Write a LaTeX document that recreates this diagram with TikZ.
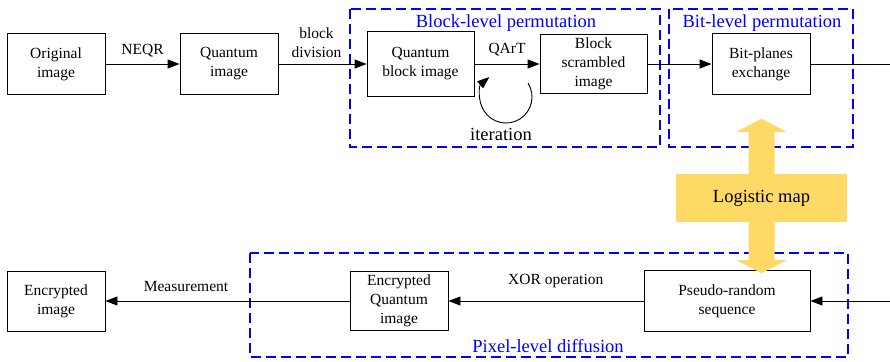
\documentclass[tikz,border=0pt]{standalone}
\usepackage{fontspec}
\setmainfont{Liberation Serif}
\usetikzlibrary{arrows.meta}
\definecolor{logyellow}{RGB}{255,217,102}

\begin{document}
\begin{tikzpicture}[x=1pt, y=-1pt,
        font=\fontsize{15.5}{19}\selectfont,
        box/.style={draw, line width=0.9pt, align=center, inner sep=0pt},
        arr/.style={line width=0.9pt, -{Triangle[length=12pt, width=9pt]}},
        lbl/.style={inner sep=0pt, align=center},
        grp/.style={draw=blue, line width=1.2pt, dash pattern=on 10pt off 5pt},
        grplbl/.style={text=blue, font=\fontsize{18.5}{22}\selectfont}]
    \useasboundingbox (0,0) rectangle (890,361);

    % dashed stage frames
    \draw[grp] (350,9) rectangle (660,147);
    \node[grplbl] at (506,23) {Block-level permutation};
    \draw[grp] (669,9) rectangle (853,147);
    \node[grplbl] at (762,23) {Bit-level permutation};
    \draw[grp] (250,253) rectangle (848,357);
    \node[grplbl] at (548,346) {Pixel-level diffusion};

    % top row
    \node[box, minimum width=98pt, minimum height=61pt] (orig) at (56,64) {Original\\image};
    \node[box, minimum width=98pt, minimum height=61pt] (qimg) at (229,64) {Quantum\\image};
    \node[box, minimum width=107pt, minimum height=65pt] (qblock) at (420.5,64) {Quantum\\block image};
    \node[box, minimum width=107pt, minimum height=59pt] (scram) at (593.5,64) {Block\\scrambled\\image};
    \node[box, minimum width=98pt, minimum height=61pt] (bitx) at (761,64) {Bit-planes\\exchange};
    \coordinate (outR) at (890,64);

    % bottom row
    \node[box, minimum width=98pt, minimum height=60pt] (enc) at (56,301) {Encrypted\\image};
    \node[box, minimum width=98pt, minimum height=59pt] (eqi) at (399,301) {Encrypted\\Quantum\\image};
    \node[box, minimum width=166pt, minimum height=61pt] (prs) at (727,301) {Pseudo-random\\sequence};
    \coordinate (inR) at (890,301);

    % flow
    \draw[arr] (orig) -- node[lbl, above=7pt] {NEQR} (qimg);
    \draw[arr] (qimg) -- node[lbl, above=6pt, xshift=-6pt] {block\\division} (qblock);
    \draw[arr] (qblock) -- node[lbl, above=8pt] {QArT} (scram);
    \draw[arr] (scram) -- (bitx);
    \draw[line width=0.9pt] (bitx) -- (outR);
    \draw[arr] (inR) -- (prs);
    \draw[arr] (prs) -- node[lbl, pos=0.45, above=13pt] {XOR operation} (eqi);
    \draw[arr] (eqi) -- node[lbl, pos=0.67, above=9pt] {Measurement} (enc);

    % iteration loop
    \coordinate (loop) at (506,97);
    \draw[arr] (loop) ++(-32:26) arc[start angle=-32, end angle=230, radius=26];
    \node[lbl, font=\fontsize{18.5}{22}\selectfont] at (501,134) {iteration};

    % logistic map
    \node[fill=logyellow, minimum width=171pt, minimum height=48pt, inner sep=0pt,
        font=\fontsize{18.5}{22}\selectfont] (logmap) at (761.5,198) {Logistic map};
    \fill[logyellow] ([xshift=-13pt]logmap.north) -- ++(0,-42) -- ++(-12,0) -- ++(25,-13)
        -- ++(25,13) -- ++(-12,0) -- ++(0,42) -- cycle;
    \fill[logyellow] ([xshift=-13pt]logmap.south) -- ++(0,38) -- ++(-12,0) -- ++(25,13)
        -- ++(25,-13) -- ++(-12,0) -- ++(0,-38) -- cycle;
\end{tikzpicture}
\end{document}
